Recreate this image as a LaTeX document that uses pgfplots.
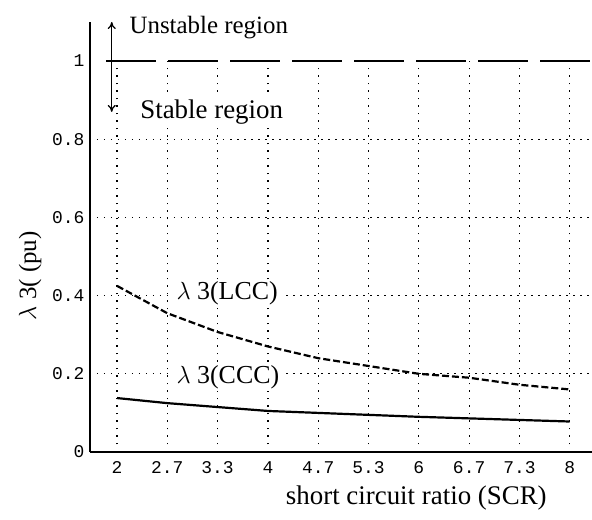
\documentclass[border=0pt]{standalone}
\usepackage{fontspec}
\setmainfont{Liberation Serif}
\newfontfamily\tickfont{Liberation Mono}
\usepackage{pgfplots}
\pgfplotsset{compat=1.18}
\usetikzlibrary{calc,arrows.meta}

\begin{document}
\begin{tikzpicture}
\begin{axis}[
    name=ax,
    scale only axis,
    width=502bp, height=430bp,
    xmin=1.642, xmax=8.295,
    ymin=0, ymax=1.1,
    axis x line*=bottom, axis y line*=left,
    axis line style={-, line width=1.8bp},
    xtick={2,2.6667,3.3333,4,4.6667,5.3333,6,6.6667,7.3333,8},
    xticklabels={2,2.7,3.3,4,4.7,5.3,6,6.7,7.3,8},
    ytick={0,0.2,0.4,0.6,0.8,1},
    yticklabels={0,0.2,0.4,0.6,0.8,1},
    major tick length=0pt,
    ticklabel style={font=\tickfont\fontsize{18}{18}\selectfont},
    xticklabel style={yshift=-6bp},
    yticklabel style={xshift=-2bp},
    xlabel={short circuit ratio (SCR)},
    xlabel style={font=\fontsize{27}{27}\selectfont, at={(axis description cs:0.65,0)}, anchor=north, yshift=-30bp},
    ylabel={$\lambda$ 3( (pu)},
    ylabel style={font=\fontsize{25}{25}\selectfont, at={(axis description cs:0,0.41)}, anchor=south, yshift=45bp},
    clip=false,
]
% grid (dotted), vertical lines stop at 1
\pgfplotsinvokeforeach{0.2,0.4,0.6,0.8}{
  \draw[line width=1.2bp, dash pattern=on 1.5bp off 5.5bp] (axis cs:1.642,#1) -- (axis cs:8.295,#1);
}
\pgfplotsinvokeforeach{2,2.6667,3.3333,4,4.6667,5.3333,6,6.6667,7.3333,8}{
  \draw[line width=1.2bp, dash pattern=on 1.5bp off 6bp] (axis cs:#1,0) -- (axis cs:#1,1);
}
% stability limit
\addplot[black, line width=2bp, dash pattern=on 50bp off 12bp] coordinates {(1.86,1) (8.295,1)};
\draw[-{To[length=7bp,width=8bp]}, line width=1.3bp] (axis cs:1.93,1) -- (axis cs:1.93,1.1);
\draw[-{To[length=7bp,width=8bp]}, line width=1.3bp] (axis cs:1.93,1) -- (axis cs:1.93,0.87);
\node[anchor=west, font=\fontsize{25}{25}\selectfont] at (axis cs:2.12,1.085) {Unstable region};
\node[anchor=west, fill=white, inner sep=2bp, font=\fontsize{27}{27}\selectfont] at (axis cs:2.28,0.87) {Stable region};
% curve labels
\node[anchor=west, fill=white, inner xsep=5bp, inner ysep=2bp, font=\fontsize{26}{26}\selectfont] at (axis cs:2.72,0.405) {$\lambda$ 3(LCC)};
\node[anchor=west, fill=white, inner xsep=5bp, inner ysep=2bp, font=\fontsize{26}{26}\selectfont] at (axis cs:2.72,0.19) {$\lambda$ 3(CCC)};
% LCC
\addplot[black, line width=2.2bp, dash pattern=on 7bp off 3bp] coordinates {
  (2,0.425) (2.6667,0.355) (3.3333,0.307) (4,0.27) (4.6667,0.24)
  (5.3333,0.22) (6,0.2) (6.6667,0.19) (7.3333,0.172) (8,0.16)
};
% CCC
\addplot[black, line width=2.2bp] coordinates {
  (2,0.138) (2.6667,0.125) (3.3333,0.115) (4,0.105) (4.6667,0.10)
  (5.3333,0.095) (6,0.09) (6.6667,0.086) (7.3333,0.082) (8,0.078)
};
\end{axis}
\pgfresetboundingbox
\path[use as bounding box] ($(ax.south west)+(-90bp,-68bp)$) rectangle ($(ax.north east)+(0bp,22bp)$);
\end{tikzpicture}
\end{document}
